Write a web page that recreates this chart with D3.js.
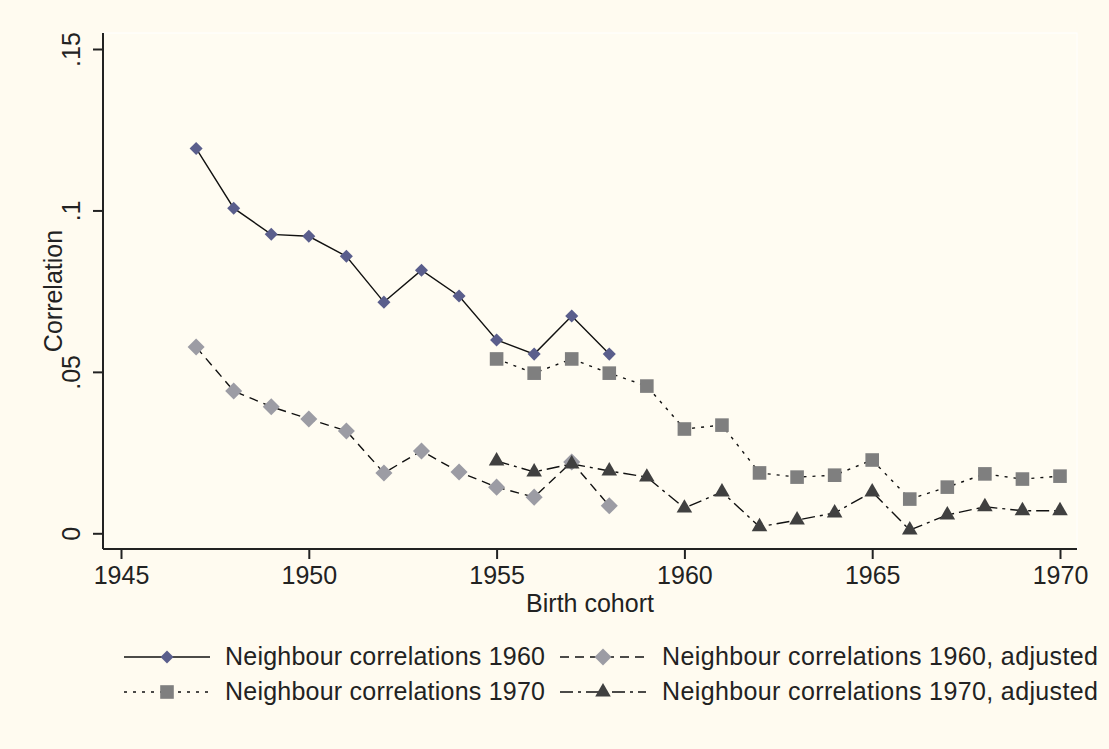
<!DOCTYPE html>
<html>
<head>
<meta charset="utf-8">
<script src="https://cdn.jsdelivr.net/npm/d3@7"></script>
<style>
  body { margin: 0; background: #fffbf0; }
  text { font-family: "Liberation Sans", Arial, sans-serif; fill: #222; }
</style>
</head>
<body>
<div class="output"></div>
<script>
// Data
const years1960 = [1947, 1948, 1949, 1950, 1951, 1952, 1953, 1954, 1955, 1956, 1957, 1958];
const corr1960 = [0.1192, 0.1007, 0.0926, 0.0920, 0.0858, 0.0716, 0.0815, 0.0735, 0.0599, 0.0555, 0.0673, 0.0555];
const corr1960Adj = [0.0577, 0.0441, 0.0392, 0.0354, 0.0317, 0.0187, 0.0255, 0.0190, 0.0143, 0.0112, 0.0221, 0.0085];

const years1970 = [1955, 1956, 1957, 1958, 1959, 1960, 1961, 1962, 1963, 1964, 1965, 1966, 1967, 1968, 1969, 1970];
const corr1970 = [0.0540, 0.0496, 0.0540, 0.0496, 0.0456, 0.0323, 0.0335, 0.0187, 0.0174, 0.0180, 0.0227, 0.0106, 0.0143, 0.0184, 0.0168, 0.0177];
const corr1970Adj = [0.0224, 0.0190, 0.0215, 0.0193, 0.0174, 0.0078, 0.0128, 0.0020, 0.0041, 0.0063, 0.0128, 0.0010, 0.0057, 0.0082, 0.0070, 0.0070];

const xTicks = [1945, 1950, 1955, 1960, 1965, 1970];
const yTicks = [0, 0.05, 0.1, 0.15];
const yTickLabels = ["0", ".05", ".1", ".15"];

const seriesNames = [
    "Neighbour correlations 1960",
    "Neighbour correlations 1960, adjusted",
    "Neighbour correlations 1970",
    "Neighbour correlations 1970, adjusted"
];

const width = 1109, height = 749;
const plot = { left: 103, right: 1077, top: 33, bottom: 549 };

const svg = d3.select(".output")
    .append("svg")
    .attr("width", width)
    .attr("height", height);

svg.append("rect")
    .attr("width", width).attr("height", height)
    .attr("fill", "#fffbf0");

// plot region
svg.append("rect")
    .attr("x", plot.left).attr("y", plot.top)
    .attr("width", plot.right - plot.left).attr("height", plot.bottom - plot.top)
    .attr("fill", "#fffcf2")
    .attr("stroke", "#ffffff");

let x = d3.scaleLinear().domain([1945, 1970]).range([121, 1060]);
let y = d3.scaleLinear().domain([0, 0.15]).range([533.3, 49]);

// Axis X
let xAxis = svg.append("g")
    .attr("transform", "translate(0," + plot.bottom + ")")
    .call(d3.axisBottom(x).tickValues(xTicks).tickFormat(d3.format("d")).tickSize(10).tickPadding(7).tickSizeOuter(0));
xAxis.select(".domain").attr("d", "M" + plot.left + ",0H" + plot.right)
    .attr("stroke", "#222").attr("stroke-width", 2);
xAxis.selectAll(".tick line").attr("stroke", "#222").attr("stroke-width", 2);
xAxis.selectAll(".tick text")
    .style("font-size", "25px")
    .style("font-family", "'Liberation Sans', Arial, sans-serif")
    .attr("fill", "#222");

// Axis Y
let yAxis = svg.append("g")
    .attr("transform", "translate(" + plot.left + ",0)")
    .call(d3.axisLeft(y).tickValues(yTicks).tickFormat((d, i) => yTickLabels[i]).tickSize(10).tickSizeOuter(0));
yAxis.select(".domain").attr("d", "M0," + plot.top + "V" + plot.bottom)
    .attr("stroke", "#222").attr("stroke-width", 2);
yAxis.selectAll(".tick line").attr("stroke", "#222").attr("stroke-width", 2);
yAxis.selectAll(".tick text")
    .attr("x", null).attr("dy", null)
    .attr("text-anchor", "middle")
    .attr("transform", "translate(-23,0) rotate(-90)")
    .style("font-size", "25px")
    .style("font-family", "'Liberation Sans', Arial, sans-serif")
    .attr("fill", "#222");

// Axis titles
svg.append("text")
    .text("Birth cohort")
    .attr("x", 590).attr("y", 612)
    .attr("text-anchor", "middle")
    .style("font-size", "25px");

svg.append("text")
    .text("Correlation")
    .attr("transform", "translate(62,291) rotate(-90)")
    .attr("text-anchor", "middle")
    .style("font-size", "25px");

// Series styles
const series = [
    { years: years1960, values: corr1960, dash: null, symbol: d3.symbolSquare, size: 85, rot: 45, color: "#5a5e8c" },
    { years: years1960, values: corr1960Adj, dash: "9,6", symbol: d3.symbolSquare, size: 145, rot: 45, color: "#9c9ca4" },
    { years: years1970, values: corr1970, dash: "3,6", symbol: d3.symbolSquare, size: 185, rot: 0, color: "#7f7f7f" },
    { years: years1970, values: corr1970Adj, dash: "13,5,3,5", symbol: d3.symbolTriangle, size: 105, rot: 0, color: "#404040" }
];

let line = d3.line()
    .x((d) => x(d.year))
    .y((d) => y(d.value));

series.forEach((s) => {
    let pts = s.years.map((yr, i) => ({ year: yr, value: s.values[i] }));
    svg.append("path")
        .attr("d", line(pts))
        .attr("fill", "none")
        .attr("stroke", "#111")
        .attr("stroke-width", 1.4)
        .attr("stroke-dasharray", s.dash);
});

// Points drawn after all lines
series.forEach((s) => {
    let pts = s.years.map((yr, i) => ({ year: yr, value: s.values[i] }));
    svg.append("g")
        .selectAll("path")
        .data(pts)
        .enter()
        .append("path")
        .attr("d", d3.symbol().type(s.symbol).size(s.size))
        .attr("transform", (d) => "translate(" + x(d.year) + "," + y(d.value) + ") rotate(" + s.rot + ")")
        .attr("fill", s.color);
});

// Legend
const legendPos = [
    { lx1: 124, lx2: 210, mx: 167, ly: 657, tx: 225 },
    { lx1: 560, lx2: 646, mx: 603, ly: 657, tx: 662 },
    { lx1: 124, lx2: 210, mx: 167, ly: 692, tx: 225 },
    { lx1: 560, lx2: 646, mx: 603, ly: 692, tx: 662 }
];

series.forEach((s, i) => {
    let p = legendPos[i];
    let g = svg.append("g");
    g.append("line")
        .attr("x1", p.lx1).attr("x2", p.lx2)
        .attr("y1", p.ly).attr("y2", p.ly)
        .attr("stroke", "#111")
        .attr("stroke-width", 1.4)
        .attr("stroke-dasharray", s.dash);
    g.append("path")
        .attr("d", d3.symbol().type(s.symbol).size(s.size))
        .attr("transform", "translate(" + p.mx + "," + p.ly + ") rotate(" + s.rot + ")")
        .attr("fill", s.color);
    g.append("text")
        .text(seriesNames[i])
        .attr("x", p.tx).attr("y", p.ly + 8)
        .attr("textLength", i % 2 === 0 ? 320 : 436)
        .style("font-size", "25px");
});
</script>
</body>
</html>
